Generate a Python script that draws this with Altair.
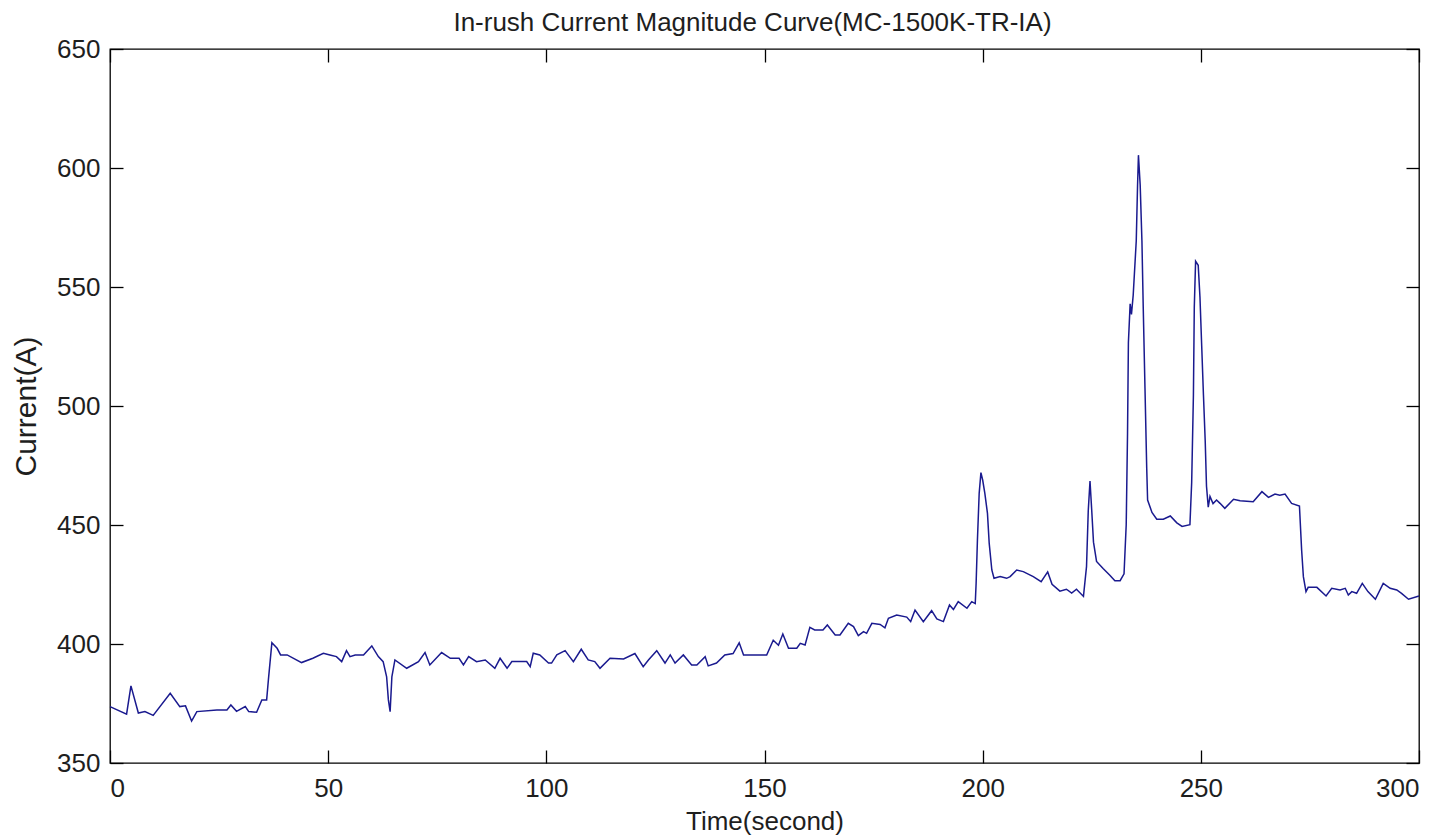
import altair as alt
import pandas as pd

time_s = [0, 3.8, 4.8, 6.5, 8, 9.9, 13.8, 16, 17.3, 18.7, 19.9, 24.5, 26.8, 27.7, 29, 31, 31.8, 33.6,
          34.8, 35.9, 36.3, 37.1, 38.3, 39.1, 40.6, 43.9, 46.5, 48.9, 50.4, 51.9, 53.1, 54.2, 55, 56.2,
          58.1, 60, 61.5, 62.6, 63.4, 63.8, 64.2, 64.6, 65.3, 68, 70.7, 72.2, 73.3, 76, 78, 80, 81, 82.2,
          84, 86, 88.2, 89.4, 91, 92.1, 95.5, 96.3, 97, 98.5, 100.5, 101.2, 102.4, 104.3, 106.2, 108.0,
          109.6, 111.1, 112.3, 114.6, 117.7, 120.3, 122.2, 123.4, 125.3, 127.2, 128.4, 129.5, 131.4,
          133.3, 134.5, 136.4, 137.1, 139, 140.9, 142.8, 144.2, 145.2, 146.7, 149, 150.5, 152, 153.2,
          154.2, 155.5, 157.4, 158.2, 159.3, 160.4, 161.5, 163.4, 164.4, 166.2, 167.3, 169.2, 170.4,
          171.5, 172.7, 173.4, 174.6, 176.5, 177.6, 178.4, 180.3, 182.6, 183.5, 184.5, 186.4, 188.3,
          189.5, 191, 192.4, 193.3, 194.4, 196.4, 197.5, 198.3, 198.5, 198.8, 199.2, 199.6, 200, 200.5,
          201.1, 201.5, 202.1, 202.6, 204, 205.5, 206.3, 207.8, 209.3, 211.6, 213.4, 214.9, 215.9, 217.7,
          219.2, 220.4, 221.5, 223.1, 223.8, 224.2, 224.6, 225, 225.4, 226.1, 227.6, 229.2, 230.3, 231.5,
          232.4, 232.9, 233.2, 233.4, 233.8, 234.1, 234.5, 235.2, 235.5, 235.7, 236.1, 236.5, 236.8,
          237.2, 237.6, 237.8, 238.8, 239.9, 241.4, 243, 244.5, 245.7, 247.5, 247.9, 248.3, 248.5, 248.8,
          249.4, 249.8, 250.2, 250.6, 251, 251.3, 251.7, 252.1, 252.8, 253.6, 254.4, 255.5, 257.5, 259,
          262, 264, 265.5, 267, 268.1, 269.3, 270.8, 272.6, 273.1, 273.5, 274.1, 274.6, 276.6, 278.7,
          280, 281.9, 283.1, 283.8, 284.6, 285.7, 287, 288.3, 290, 291.8, 293.4, 294.9, 296, 297.6, 300]

current_a = [373.7, 370.5, 382.4, 371.0, 371.6, 370.0, 379.3, 373.7, 374.0, 367.6, 371.6, 372.3, 372.3,
             374.4, 371.7, 373.7, 371.6, 371.3, 376.5, 376.5, 384.9, 400.5, 398.2, 395.4, 395.4, 392.2,
             394.0, 396.1, 395.4, 394.7, 392.6, 397.2, 394.7, 395.4, 395.4, 399.2, 394.7, 392.6, 386.2,
             376.5, 371.6, 386.2, 393.3, 389.8, 392.6, 396.4, 391.2, 396.4, 394.0, 394.0, 391.2, 394.7,
             392.6, 393.3, 389.8, 394.0, 389.8, 392.6, 392.6, 390.5, 396.1, 395.4, 392.0, 392.0, 395.4,
             397.2, 392.6, 397.8, 393.3, 392.6, 389.8, 394.0, 393.7, 396.0, 390.5, 393.3, 397.2, 392.0,
             395.4, 392.0, 395.4, 391.2, 391.2, 394.7, 390.8, 392.0, 395.4, 396.0, 400.5, 395.4, 395.4,
             395.4, 395.4, 401.6, 399.5, 404.2, 398.2, 398.2, 400.3, 399.6, 407.0, 405.9, 405.9, 408.0,
             403.8, 403.8, 408.7, 407.3, 403.5, 405.2, 404.5, 408.7, 408.2, 406.8, 410.8, 412.2, 411.3,
             409.4, 414.3, 409.4, 414.0, 410.5, 409.4, 416.4, 414.5, 417.8, 415.0, 417.8, 417.0, 425.5,
             443.7, 463.3, 472.0, 468.9, 463.3, 454.9, 442.3, 431.1, 427.6, 428.3, 427.6, 428.3, 431.1,
             430.4, 428.3, 426.2, 430.3, 425.1, 422.2, 423.0, 421.4, 423.0, 420.0, 432.5, 456.0, 468.5,
             456.0, 442.8, 434.7, 431.7, 428.8, 426.6, 426.6, 429.5, 450.2, 488.4, 526.7, 542.9, 538.5,
             546.6, 569.4, 592.9, 605.4, 592.9, 569.4, 541.4, 507.6, 473.7, 460.5, 455.3, 452.4, 452.4,
             453.8, 450.9, 449.4, 450.1, 467.8, 504.6, 541.4, 560.8, 559.1, 545.8, 525.2, 504.6, 485.5,
             466.3, 457.5, 462.0, 459.0, 460.5, 459.1, 457.0, 460.8, 460.2, 459.8, 464.0, 461.6, 463.0,
             462.5, 463.0, 459.1, 458.0, 439.5, 428.3, 422.0, 423.8, 423.8, 420.2, 423.4, 422.7, 423.4,
             420.6, 422.0, 421.3, 425.5, 422.0, 418.8, 425.5, 423.4, 422.7, 421.3, 418.8, 420.2]

x_ticks = [0, 50, 100, 150, 200, 250, 300]
y_ticks = [350, 400, 450, 500, 550, 600, 650]

W = 1309
H = 714
FONT = "Liberation Sans"
TXT = "#1e1e1e"

df = pd.DataFrame({"t": time_s, "i": current_a})

xscale = alt.Scale(domain=[0, 300], nice=False, zero=False)
yscale = alt.Scale(domain=[350, 650], nice=False, zero=False)


def layer(xaxis, yaxis, opacity=1.0):
    return alt.Chart(df).mark_line(color="#1a1a8f", strokeWidth=1.5, opacity=opacity).encode(
        x=alt.X("t:Q", scale=xscale, axis=xaxis),
        y=alt.Y("i:Q", scale=yscale, axis=yaxis),
    )


common = dict(grid=False, domain=False, labelFont=FONT, titleFont=FONT)
tick_style = dict(ticks=True, tickSize=13, tickColor="#000", tickWidth=1.3, labels=False, title=None)

# Labels + titles
l1 = layer(
    alt.Axis(orient="bottom", values=x_ticks, ticks=False, labels=True, title="Time(second)",
             labelFontSize=26, titleFontSize=26, labelPadding=12, titlePadding=7,
             labelColor=TXT, titleColor=TXT, titleFontWeight="normal", **common),
    alt.Axis(orient="left", values=y_ticks, ticks=False, labels=True, title="Current(A)",
             labelFontSize=26, titleFontSize=30, labelPadding=10, titlePadding=15,
             labelColor=TXT, titleColor=TXT, titleFontWeight="normal", **common),
)
# Inward ticks on bottom and left edges
l2 = layer(
    alt.Axis(orient="top", offset=-H, values=x_ticks, **tick_style, **common),
    alt.Axis(orient="right", offset=-W, values=y_ticks, **tick_style, **common),
    opacity=0,
)
# Inward ticks on top and right edges
l3 = layer(
    alt.Axis(orient="bottom", offset=-H, values=x_ticks, **tick_style, **common),
    alt.Axis(orient="left", offset=-W, values=y_ticks, **tick_style, **common),
    opacity=0,
)

chart = (
    alt.layer(l1, l2, l3)
    .resolve_axis(x="independent", y="independent")
    .properties(
        width=W,
        height=H,
        title=alt.TitleParams("In-rush Current Magnitude Curve(MC-1500K-TR-IA)", font=FONT,
                              fontSize=26, fontWeight="normal", color=TXT, offset=0,
                              anchor="middle", dx=-12),
        autosize=alt.AutoSizeParams(type="none"),
        padding={"left": 102, "top": 41, "right": 22, "bottom": 76},
    )
    .configure_view(stroke="#000", strokeWidth=1.3)
)

chart.save("out.html", embed_options={"renderer": "svg", "actions": False})
